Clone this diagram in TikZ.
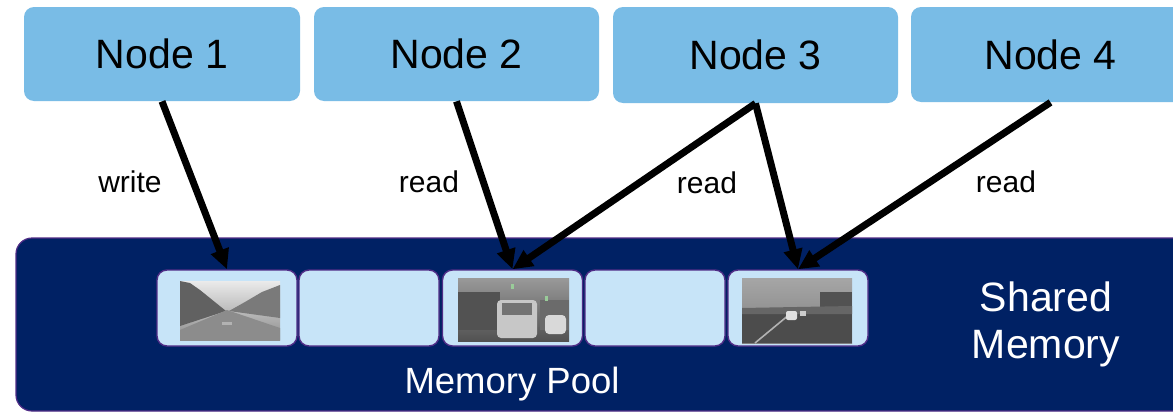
\documentclass[tikz,border=0pt]{standalone}
\usepackage{fontspec}
\setmainfont{Liberation Sans}
\usetikzlibrary{arrows.meta}
\definecolor{nodeblue}{RGB}{121,188,230}
\definecolor{navy}{RGB}{0,33,100}
\definecolor{slotblue}{RGB}{199,228,248}
\definecolor{slotedge}{RGB}{80,45,135}
\tikzset{
  procbox/.style={fill=nodeblue, rounded corners=5pt, inner sep=0pt,
    font=\fontsize{20.5}{24}\selectfont, text=black},
  slotbox/.style={fill=slotblue, draw=slotedge, line width=0.7pt, rounded corners=5pt,
    minimum width=70pt, minimum height=38pt, inner sep=0pt},
  conn/.style={line width=3.5pt, -{Triangle[length=10pt,width=9pt]}},
  lbl/.style={font=\fontsize{15}{18}\selectfont, anchor=base, inner sep=0pt},
  whitelbl/.style={text=white, anchor=base, inner sep=0pt},
}
\begin{document}
\begin{tikzpicture}[x=0.5pt, y=-0.5pt]
\useasboundingbox (0,0) rectangle (1173,412);
\clip (0,0) rectangle (1173,412);
\fill[white] (0,0) rectangle (1173,412);

% processes
\node[procbox, minimum width=138pt, minimum height=47pt] (n1) at (162,54) {Node 1};
\node[procbox, minimum width=142.5pt, minimum height=47pt] (n2) at (456.5,54) {Node 2};
\node[procbox, minimum width=142.5pt, minimum height=48pt] (n3) at (755.5,55) {Node 3};
\node[procbox, minimum width=139.5pt, minimum height=47.5pt] (n4) at (1050.5,54.5) {Node 4};

% shared memory
\node[fill=navy, draw=slotedge, line width=0.6pt, rounded corners=8pt,
  minimum width=592pt, minimum height=86.5pt, inner sep=0pt] (shm) at (608,324.5) {};

% slots
\node[slotbox] (s1) at (227,308) {};
\node[slotbox] (s2) at (369,308) {};
\node[slotbox] (s3) at (512.5,308) {};
\node[slotbox] (s4) at (655,308) {};
\node[slotbox] (s5) at (798,308) {};

% photo 1
\fill[top color=black!8, bottom color=black!45] (180,281) rectangle (280,340);
\fill[black!62] (180,281) -- (190,283) -- (200,290) -- (226,311) -- (180,326) -- cycle;
\fill[black!52] (280,285) -- (262,292) -- (245,302) -- (229,311) -- (280,318) -- cycle;
\fill[black!45] (227,310) -- (280,328) -- (280,340) -- (180,340) -- (180,330) -- cycle;
\fill[black!30] (222,322) rectangle (232,325);

% photo 3
\fill[top color=black!40, bottom color=black!68] (458,278) rectangle (569,341);
\fill[black!68] (458,292) rectangle (500,330);
\fill[black!58] (540,300) rectangle (569,330);
\fill[black!22, rounded corners=2pt] (497,300) rectangle (537,338);
\fill[black!55] (502,303) rectangle (532,315);
\fill[black!15, rounded corners=2pt] (545,315) rectangle (566,334);
\fill[green!50!black!40] (511,284) rectangle (514,289);
\fill[green!50!black!40] (545,296) rectangle (548,301);

% photo 5
\fill[top color=black!35, bottom color=black!50] (742,278) rectangle (852,343);
\fill[black!70] (742,312) rectangle (852,343);
\fill[black!68] (820,292) rectangle (852,312);
\fill[black!60] (742,308) -- (852,306) -- (852,314) -- (742,314) -- cycle;
\draw[black!30, line width=0.8pt] (790,314) -- (755,343);
\fill[black!12, rounded corners=1pt] (786,311) rectangle (797,320);
\fill[black!20] (800,311) rectangle (806,316);

% connectors
\draw[conn] (n1.south) -- (s1.north);
\draw[conn] (n2.south) -- (s3.north);
\draw[conn] (n3.south) -- (s3.north);
\draw[conn] (n3.south) -- (s5.north);
\draw[conn] (n4.south) -- (s5.north);

% connector labels
\node[lbl] (lw) at (130,192) {write};
\node[lbl] (lr1) at (429,192) {read};
\node[lbl] (lr2) at (707,193) {read};
\node[lbl] (lr3) at (1006,192) {read};

% memory labels
\node[whitelbl, font=\fontsize{18.25}{22}\selectfont] (mp) at (512,393) {Memory Pool};
\node[whitelbl, font=\fontsize{20.5}{24}\selectfont] (sm1) at (1046,311) {Shared};
\node[whitelbl, font=\fontsize{20.5}{24}\selectfont] (sm2) at (1046,358) {Memory};
\end{tikzpicture}
\end{document}
